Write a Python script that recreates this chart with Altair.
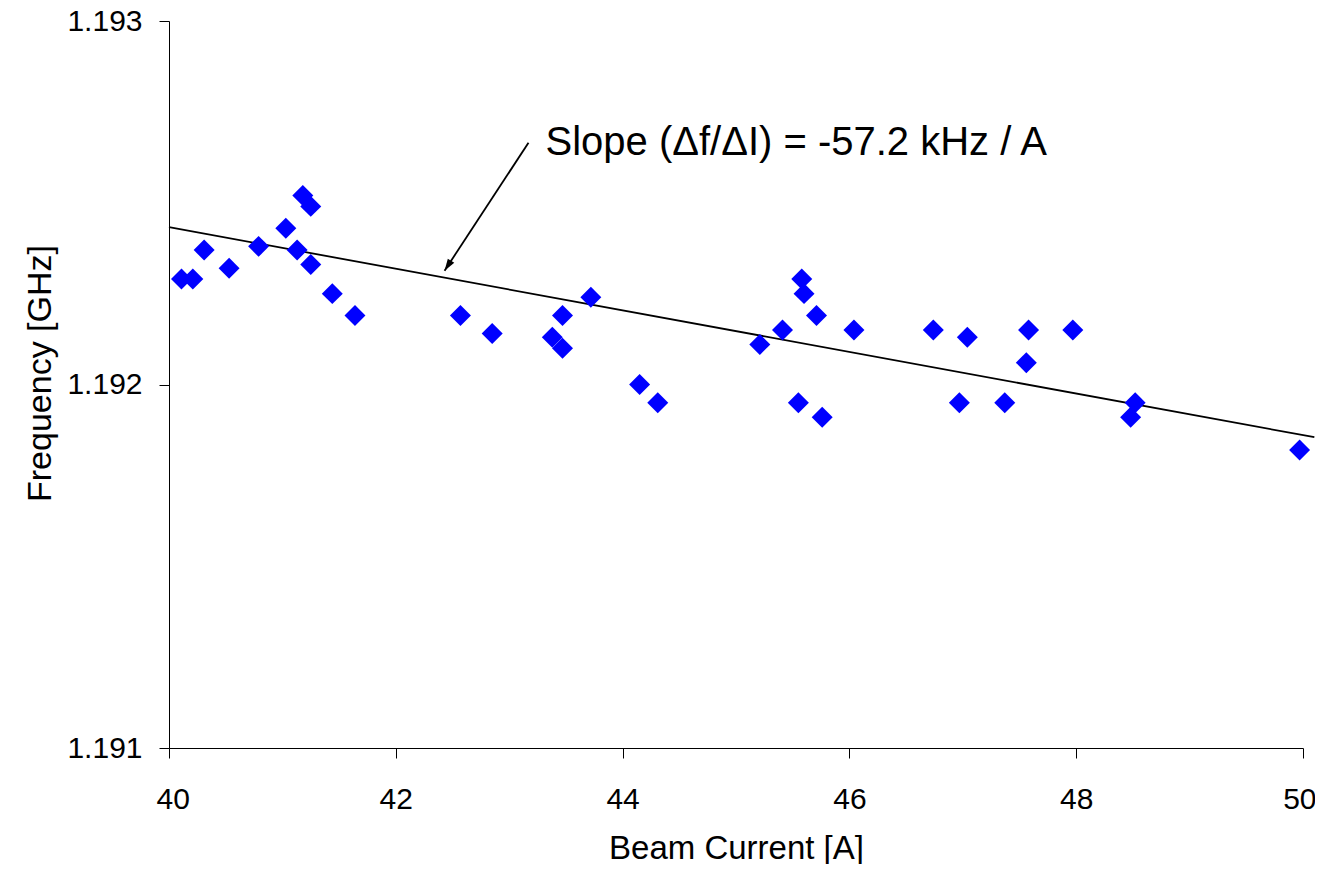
import altair as alt
import pandas as pd

# ---- data ----
current = [40.11, 40.21, 40.31, 40.53, 40.79, 41.03, 41.13, 41.18, 41.25, 41.25,
           41.44, 41.64, 42.57, 42.85, 43.38, 43.47, 43.47, 43.72, 44.15, 44.31,
           45.21, 45.41, 45.58, 45.60, 45.55, 45.71, 45.76, 46.04, 46.74, 46.97,
           47.04, 47.37, 47.58, 47.56, 47.97, 48.52, 48.48, 49.97]
freq = [1.19229, 1.19229, 1.19237, 1.19232, 1.19238, 1.19243, 1.19237, 1.19252, 1.19249, 1.19233,
        1.19225, 1.19219, 1.19219, 1.19214, 1.19213, 1.19210, 1.19219, 1.19224, 1.19200, 1.19195,
        1.19211, 1.19215, 1.19229, 1.19225, 1.19195, 1.19219, 1.19191, 1.19215, 1.19215, 1.19195,
        1.19213, 1.19195, 1.19215, 1.19206, 1.19215, 1.19195, 1.19191, 1.19182]

fit_current = [40.0, 50.1]
fit_freq = [1.192433, 1.191855]

x_ticks = [40, 42, 44, 46, 48, 50]
y_ticks = [1.191, 1.192, 1.193]

note_text = "Slope (\u0394f/\u0394I) = -57.2 kHz / A"
note_x = [43.32]
note_y = [1.19263]
arrow_x = [43.17]
arrow_y = [1.192665]
arrow_x2 = [42.43]
arrow_y2 = [1.192313]

FONT = "Liberation Sans"

pts = pd.DataFrame({"current": current, "freq": freq})
fit = pd.DataFrame({"current": fit_current, "freq": fit_freq})
arrow = pd.DataFrame({"current": arrow_x, "freq": arrow_y, "x2": arrow_x2, "y2": arrow_y2})
head = pd.DataFrame({"current": arrow_x2, "freq": arrow_y2})
note = pd.DataFrame({"current": note_x, "freq": note_y, "t": [note_text]})

xscale = alt.Scale(domain=[40, 50], nice=False, zero=False)
yscale = alt.Scale(domain=[1.191, 1.193], nice=False, zero=False)

xaxis = alt.Axis(values=x_ticks, format="d", title="Beam Current [A]", grid=False,
                 tickSize=10, labelFontSize=30, labelBaseline="alphabetic", labelPadding=50,
                 labelFlush=True, labelFlushOffset=13, labelOverlap=False,
                 labelFont=FONT, labelColor="black",
                 domainColor="black", tickColor="black",
                 titleFont=FONT, titleFontWeight="normal", titleColor="black",
                 titleFontSize=33, titleBaseline="alphabetic", titleAlign="center",
                 titleX=567, titleY=110)
yaxis = alt.Axis(values=y_ticks, format=".3f", title="Frequency [GHz]", grid=False,
                 tickSize=10, labelFontSize=30, labelPadding=17, labelOverlap=False,
                 labelFont=FONT, labelColor="black", domainColor="black", tickColor="black",
                 titleFont=FONT, titleFontWeight="normal", titleColor="black",
                 titleFontSize=34, titleAngle=-90, titleBaseline="alphabetic",
                 titleAlign="center", titleX=-119, titleY=352)

X = alt.X("current:Q", scale=xscale, axis=xaxis)
Y = alt.Y("freq:Q", scale=yscale, axis=yaxis)

points = alt.Chart(pts).mark_point(
    shape="diamond", filled=True, size=440, color="#0000FF", opacity=1
).encode(x=X, y=Y)

trend = alt.Chart(fit).mark_line(color="black", strokeWidth=1.8, clip=False).encode(x=X, y=Y)

arrow_line = alt.Chart(arrow).mark_rule(color="black", strokeWidth=1.8).encode(
    x=X, y=Y, x2="x2:Q", y2="y2:Q",
)

arrow_head = alt.Chart(head).mark_point(
    shape="M0,0L-0.55,1.7L0.55,1.7Z", filled=True, size=196, color="black",
    opacity=1, angle=213
).encode(x=X, y=Y)

label = alt.Chart(note).mark_text(
    align="left", baseline="alphabetic", fontSize=40, font=FONT, color="black"
).encode(x=X, y=Y, text="t:N")

chart = alt.layer(trend, arrow_line, arrow_head, points, label).properties(
    width=1134,
    height=727,
    padding={"left": 161, "top": 13, "right": 12, "bottom": 116},
    autosize=alt.AutoSizeParams(type="none"),
    background="white",
).configure_view(strokeWidth=0, stroke="transparent").configure_axis(
    domainColor="black", domainWidth=1, tickColor="black", tickWidth=1,
    labelColor="black", titleColor="black", labelFont=FONT, titleFont=FONT,
    titleFontWeight="normal",
)

chart.save("out.html", embed_options={"renderer": "svg", "actions": False})
